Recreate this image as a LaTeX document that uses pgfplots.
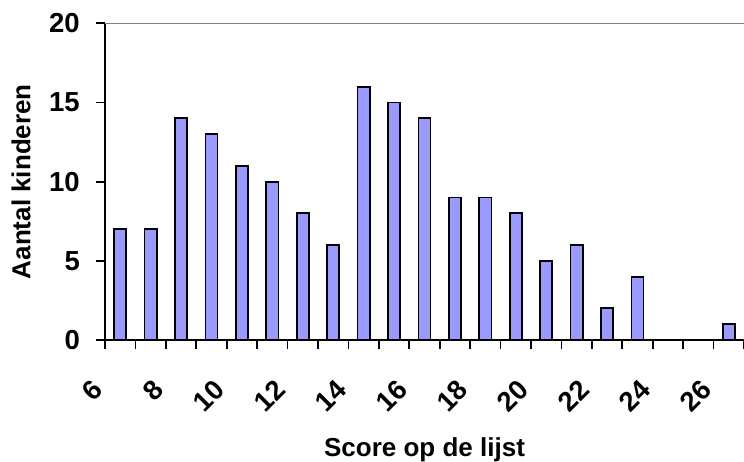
\documentclass[border=0pt]{standalone}
\usepackage{fontspec}
\setmainfont{Liberation Sans}
\usepackage{pgfplots}
\pgfplotsset{compat=1.18}
\definecolor{barfill}{HTML}{9999FF}
\definecolor{topline}{HTML}{808080}
\begin{document}
\begin{tikzpicture}
\begin{axis}[
  at={(0pt,0pt)}, anchor=south west,
  scale only axis, width=639pt, height=316.7pt,
  xmin=6, xmax=27, ymin=0, ymax=20,
  enlargelimits=false,
  axis x line*=bottom, axis y line*=left,
  axis line style={line width=2.2pt, black},
  xtick={6,8,...,26},
  minor xtick={7,9,...,27},
  ytick={0,5,10,15,20},
  tick align=outside, major tick length=9pt, minor tick length=9pt,
  tick style={line width=1.8pt, black},
  minor tick style={line width=1.8pt, black},
  /pgf/number format/assume math mode=true,
  ticklabel style={font=\fontsize{27.5}{30}\selectfont\bfseries},
  xticklabel style={xshift=-7pt, yshift=-36pt, rotate=45, anchor=east, inner sep=0pt},
  yticklabel style={inner sep=0pt, xshift=-16pt},
  xlabel={Score op de lijst},
  ylabel={Aantal kinderen},
  xlabel style={at={(axis description cs:0.5,-0.3663)}, anchor=base, font=\fontsize{26}{30}\selectfont\bfseries},
  ylabel style={at={(axis description cs:-0.1315,0.5)}, anchor=center, font=\fontsize{26}{30}\selectfont\bfseries},
]
\draw[topline, line width=2.2pt] (axis cs:6,20) -- (axis cs:27,20);
\addplot[ybar, bar width=0.4, fill=barfill, draw=black, line width=1.8pt]
  coordinates {
  (6.5,7) (7.5,7) (8.5,14) (9.5,13) (10.5,11) (11.5,10) (12.5,8)
  (13.5,6) (14.5,16) (15.5,15) (16.5,14) (17.5,9) (18.5,9) (19.5,8)
  (20.5,5) (21.5,6) (22.5,2) (23.5,4) (26.5,1)
  };
\end{axis}
\pgfresetboundingbox
\path[use as bounding box] (-105pt,-122pt) rectangle (639pt,340pt);
\end{tikzpicture}
\end{document}
